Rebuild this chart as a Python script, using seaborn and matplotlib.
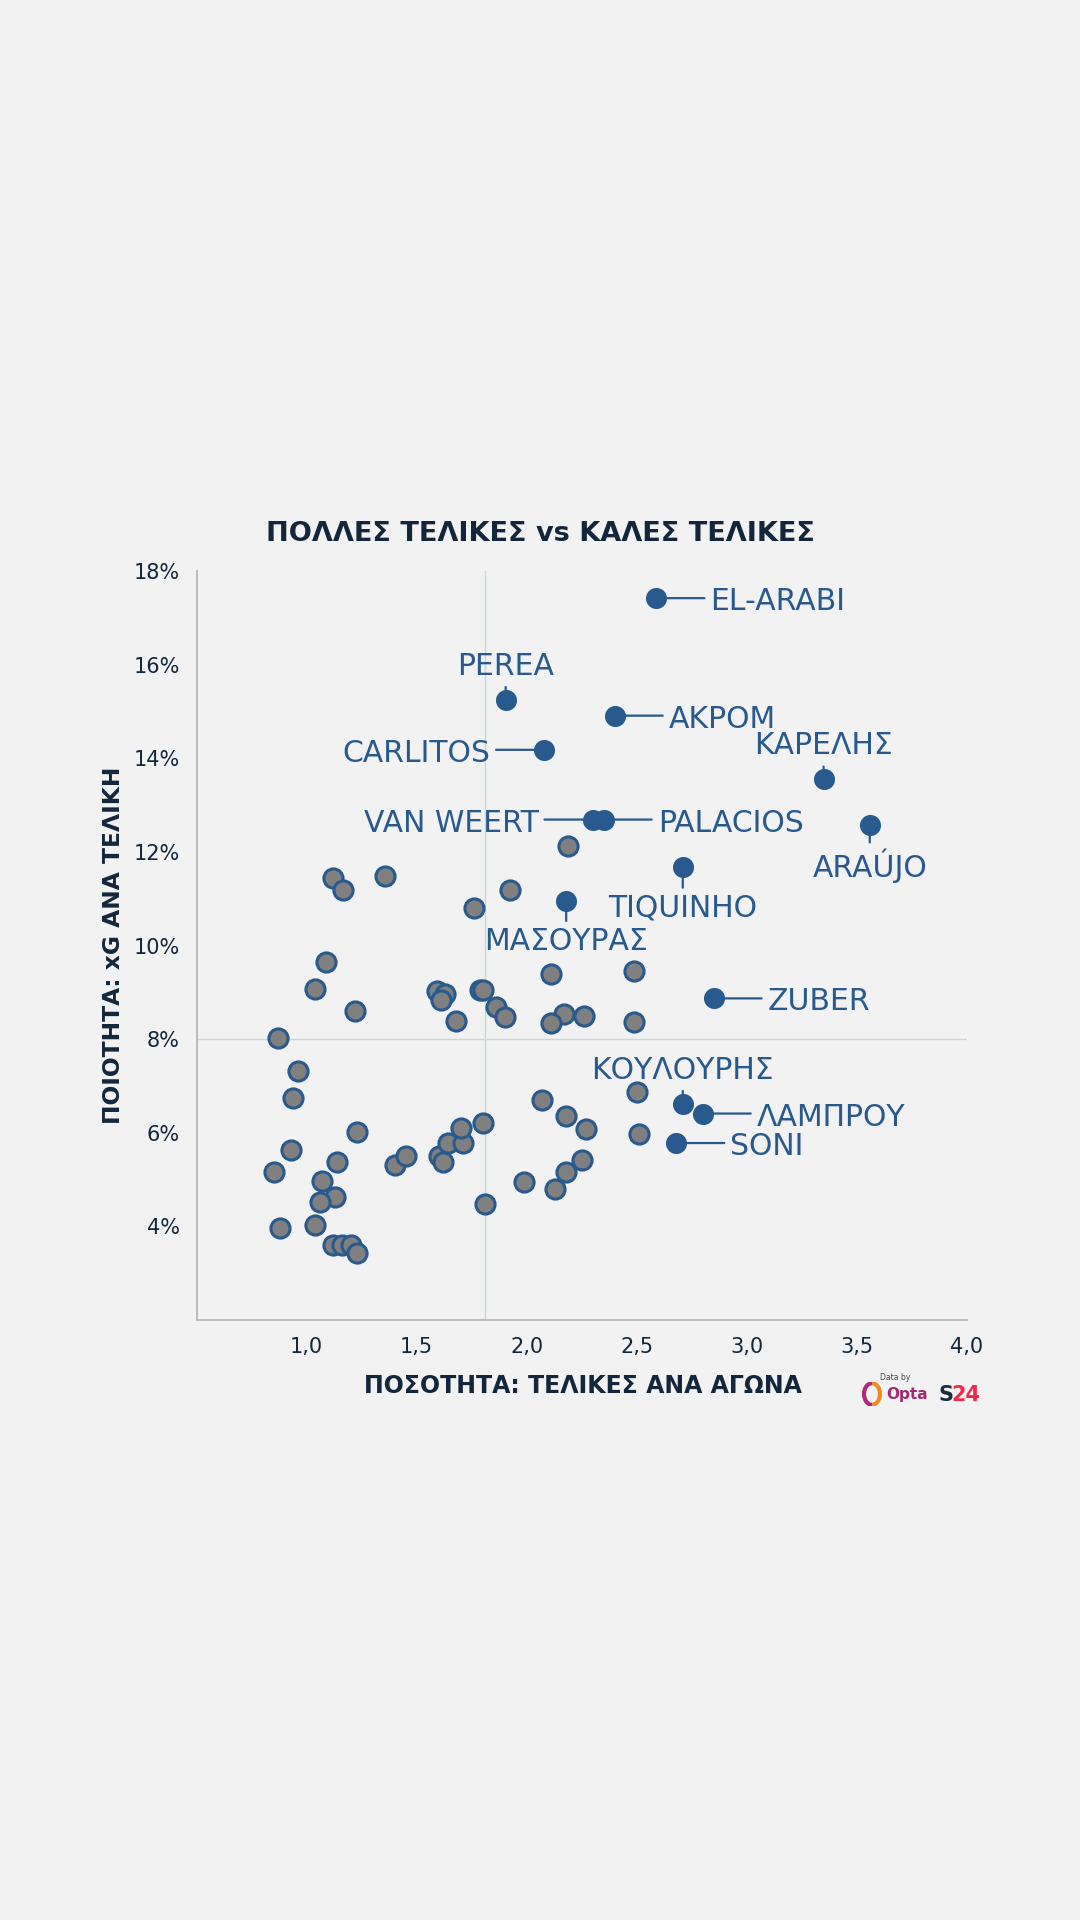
import numpy as np
import pandas as pd
import seaborn as sns
import matplotlib.pyplot as plt
from matplotlib.patches import Arc

# παίκτες με ετικέτα
names = ['EL-ARABI', 'PEREA', 'ΑΚΡΟΜ', 'CARLITOS', 'ΚΑΡΕΛΗΣ', 'VAN WEERT', 'PALACIOS',
         'ARAÚJO', 'TIQUINHO', 'ΜΑΣΟΥΡΑΣ', 'ZUBER', 'ΚΟΥΛΟΥΡΗΣ', 'ΛΑΜΠΡΟΥ', 'SONI']
hl_shots = [2.59, 1.905, 2.40, 2.08, 3.35, 2.30, 2.35, 3.56, 2.71, 2.18, 2.85, 2.71, 2.80, 2.68]
hl_xg = [17.42, 15.25, 14.91, 14.18, 13.55, 12.69, 12.69, 12.58, 11.67, 10.96, 8.87, 6.62, 6.41, 5.78]
label_side = ['right', 'top', 'right', 'left', 'top', 'left', 'right',
              'bottom', 'bottom', 'bottom', 'right', 'top', 'right', 'right']

# υπόλοιποι παίκτες
other_shots = [1.09, 1.04, 1.22, 0.87, 0.96, 0.94, 1.23, 0.93, 0.85, 1.14, 1.07, 1.13, 1.06,
               0.88, 1.04, 1.12, 1.16, 1.20, 1.23, 1.40, 1.45, 1.60, 1.62, 1.645, 1.71, 1.70,
               1.80, 1.81, 1.99, 2.13, 2.18, 2.25, 2.07, 2.18, 2.27, 2.50, 2.51, 1.595, 1.63,
               1.61, 1.68, 1.79, 1.80, 1.86, 1.90, 2.11, 2.17, 2.11, 2.26, 2.49, 2.49,
               1.12, 1.166, 1.355, 1.76, 1.925, 2.19]
other_xg = [9.65, 9.07, 8.60, 8.02, 7.31, 6.75, 6.02, 5.63, 5.17, 5.37, 4.97, 4.62, 4.53,
            3.96, 4.02, 3.60, 3.60, 3.60, 3.43, 5.31, 5.50, 5.51, 5.38, 5.78, 5.79, 6.10,
            6.20, 4.47, 4.95, 4.80, 5.16, 5.42, 6.70, 6.36, 6.09, 6.88, 5.98, 9.02, 8.97,
            8.83, 8.38, 9.05, 9.05, 8.68, 8.48, 9.39, 8.53, 8.34, 8.50, 9.45, 8.36,
            11.44, 11.18, 11.48, 10.81, 11.18, 12.12]

avg_shots = 1.81
avg_xg = 8.0
x_ticks = [1.0, 1.5, 2.0, 2.5, 3.0, 3.5, 4.0]
y_ticks = [4, 6, 8, 10, 12, 14, 16, 18]

BG = '#f2f2f2'
NAVY = '#13263b'
BLUE = '#285a8e'
GREY = '#808080'

sns.set_theme(style='white')
plt.rcParams['font.family'] = ['DejaVu Sans']

fig = plt.figure(figsize=(10.8, 19.2), dpi=100, facecolor=BG)
ax = fig.add_axes([0.182, 0.3125, 0.713, 0.3901])
ax.set_facecolor(BG)

ax.axvline(avg_shots, color='#c8d7da', lw=1.0, zorder=1)
ax.axhline(avg_xg, color='#c8d7da', lw=1.0, zorder=1)

others = pd.DataFrame({'shots': other_shots, 'xg': other_xg})
hl = pd.DataFrame({'name': names, 'shots': hl_shots, 'xg': hl_xg, 'side': label_side})

sns.scatterplot(data=others, x='shots', y='xg', ax=ax, s=190, color=GREY,
                edgecolor=BLUE, linewidth=2.2, zorder=3, legend=False)
sns.scatterplot(data=hl, x='shots', y='xg', ax=ax, s=230, color=BLUE,
                edgecolor=BLUE, linewidth=0, zorder=4, legend=False)

offsets = {'right': ((39, -2.5), 'left', 'center'),
           'left': ((-39, -2.5), 'right', 'center'),
           'top': ((0, 24), 'center', 'center'),
           'bottom': ((0, -29.5), 'center', 'center')}
for _, r in hl.iterrows():
    off, ha, va = offsets[r['side']]
    ax.annotate(r['name'], xy=(r['shots'], r['xg']), xytext=off, textcoords='offset points',
                ha=ha, va=va, fontsize=21.5, color=BLUE, zorder=5,
                arrowprops=dict(arrowstyle='-', color=BLUE, lw=1.6, shrinkA=2, shrinkB=0,
                                relpos=(0, 0.62) if r['side'] == 'right' else
                                (1, 0.62) if r['side'] == 'left' else (0.5, 0.5)))

ax.set_xlim(0.5, 4.0)
ax.set_ylim(2, 18)
ax.set_xticks(x_ticks)
ax.set_xticklabels([f'{t:.1f}'.replace('.', ',') for t in x_ticks])
ax.set_yticks(y_ticks)
ax.set_yticklabels([f'{t}%' for t in y_ticks])
ax.tick_params(axis='both', length=0, labelsize=15, labelcolor=NAVY, pad=12)
ax.set_xlabel('')
ax.set_ylabel('')
for s in ['top', 'right']:
    ax.spines[s].set_visible(False)
for s in ['left', 'bottom']:
    ax.spines[s].set_color('#b3b3b3')
    ax.spines[s].set_linewidth(1.2)

fig.text(0.5, 1 - 534 / 1920, 'ΠΟΛΛΕΣ ΤΕΛΙΚΕΣ vs ΚΑΛΕΣ ΤΕΛΙΚΕΣ', ha='center', va='center',
         fontsize=19.5, fontweight='bold', color=NAVY)
fig.text(583 / 1080, 1 - 1386 / 1920, 'ΠΟΣΟΤΗΤΑ: ΤΕΛΙΚΕΣ ΑΝΑ ΑΓΩΝΑ', ha='center', va='center',
         fontsize=17, fontweight='bold', color=NAVY)
fig.text(114 / 1080, 1 - 945 / 1920, 'ΠΟΙΟΤΗΤΑ: xG ΑΝΑ ΤΕΛΙΚΗ', ha='center', va='center',
         rotation=90, fontsize=16.8, fontweight='bold', color=NAVY)

# λογότυπα πηγής
fig.text(895 / 1080, 1 - 1378 / 1920, 'Data by', ha='center', va='center', fontsize=5.5, color='#444444')
fig.text(886 / 1080, 1 - 1395 / 1920, 'Opta', ha='left', va='center', fontsize=11,
         fontweight='bold', color='#a12a72')
lax = fig.add_axes([862 / 1080, 1 - 1406 / 1920, 20 / 1080, 24 / 1920])
lax.set_xlim(0, 1)
lax.set_ylim(0, 1)
lax.axis('off')
lax.add_patch(Arc((0.5, 0.5), 0.8, 0.9, theta1=90, theta2=270, color='#b02a7a', lw=3))
lax.add_patch(Arc((0.5, 0.5), 0.8, 0.9, theta1=270, theta2=90, color='#f08a24', lw=3))
fig.text(938 / 1080, 1 - 1395 / 1920, 'S', ha='left', va='center', fontsize=15,
         fontweight='heavy', color='#1a2a3f')
fig.text(951 / 1080, 1 - 1395 / 1920, '24', ha='left', va='center', fontsize=15,
         fontweight='heavy', color='#f0284a')

fig.savefig('out.png', dpi=100, facecolor=BG)
